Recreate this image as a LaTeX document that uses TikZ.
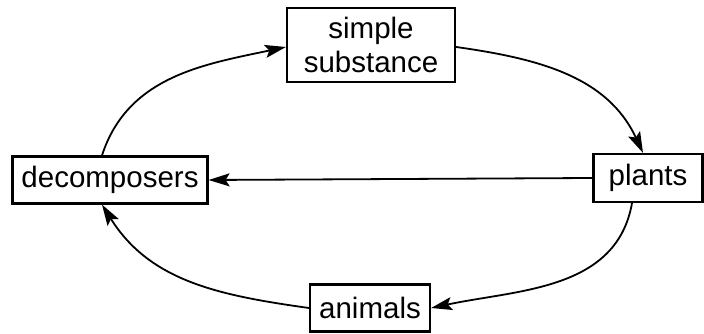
\documentclass[tikz,border=0pt]{standalone}
\usepackage{fontspec}
\setmainfont{Liberation Sans}
\usetikzlibrary{arrows.meta}
\tikzset{
  box/.style={draw, line width=2.2pt, align=center, inner sep=0pt, font=\fontsize{29.5}{34}\selectfont},
  cyc/.style={line width=1.8pt, -{Stealth[length=21pt, width=13pt, inset=4pt]}}
}
\begin{document}
\begin{tikzpicture}[x=1pt, y=1pt]
\useasboundingbox (0,0) rectangle (704,334);

\node[box, minimum width=168pt, minimum height=74pt] (sub) at (371,289) {simple\\substance};
\node[box, minimum width=195pt, minimum height=47pt] (dec) at (110,154) {decomposers};
\node[box, minimum width=109pt, minimum height=48pt] (pla) at (648,156) {plants};
\node[box, minimum width=120pt, minimum height=47pt] (ani) at (370,26) {animals};

\draw[cyc] ([xshift=-8pt]dec.north) to[out=72, in=192] ([yshift=-2pt]sub.west);
\draw[cyc] ([yshift=-2pt]sub.east) to[out=-8, in=115] ([xshift=-5pt]pla.north);
\draw[cyc] (pla.west) -- (dec.east);
\draw[cyc] ([xshift=-16pt]pla.south) to[out=-100, in=12] (ani.east);
\draw[cyc] (ani.west) to[out=172, in=-58] ([xshift=-8pt]dec.south);
\end{tikzpicture}
\end{document}
